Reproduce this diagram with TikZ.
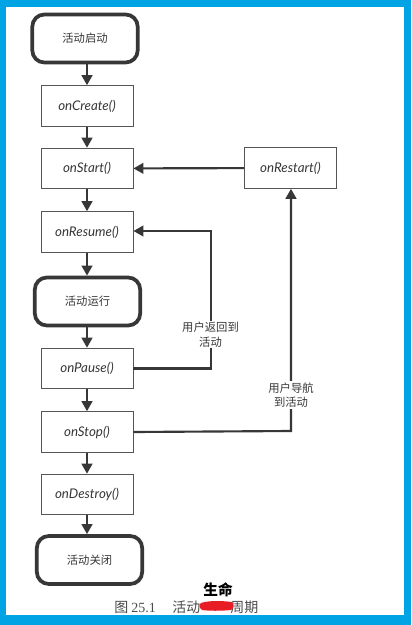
\documentclass[tikz,border=0pt]{standalone}
\usepackage{fontspec}
\setmainfont{Liberation Serif}
\newfontfamily\cjk{Noto Sans CJK SC}
\newfontfamily\hand{Lato}
\usetikzlibrary{arrows.meta}
\definecolor{frame}{RGB}{0,164,228}
\definecolor{ink}{RGB}{55,55,55}
\definecolor{blob}{RGB}{232,28,36}
\tikzset{
  methodbox/.style={draw=ink!85, line width=0.7pt, minimum width=69pt, minimum height=30.5pt, inner sep=0pt, font=\hand\itshape\fontsize{10}{11}\selectfont, text=ink},
  statebox/.style={draw=ink, line width=2.8pt, rounded corners=9pt, minimum width=79pt, minimum height=36pt, inner sep=0pt, font=\cjk\fontsize{8.5}{10}\selectfont, text=ink},
  flow/.style={draw=ink, line width=1.6pt, -{Triangle[length=7.5pt,width=8pt]}},
  lbl/.style={fill=white, inner sep=1pt, align=center, font=\cjk\fontsize{8.5}{11}\selectfont, text=ink}
}
\begin{document}
\begin{tikzpicture}[x=0.75pt,y=-0.75pt]
\useasboundingbox (0,0) rectangle (411,625);
\fill[frame] (0,0) rectangle (411,625);
\fill[white] (6,7) rectangle (404,615);

\node[statebox] (start) at (85,38.5) {活动启动};
\node[methodbox] (create) at (87,106) {onCreate()};
\node[methodbox] (onstart) at (87,168.5) {onStart()};
\node[methodbox] (restart) at (290.5,168) {onRestart()};
\node[methodbox] (resume) at (87,232) {onResume()};
\node[statebox] (run) at (87.5,301.5) {活动运行};
\node[methodbox] (pause) at (87,368.5) {onPause()};
\node[methodbox] (stop) at (87,432) {onStop()};
\node[methodbox] (destroy) at (87,494.5) {onDestroy()};
\node[statebox] (close) at (89.5,560) {活动关闭};

\draw[flow] (start.south -| create) -- (create.north);
\draw[flow] (create) -- (onstart);
\draw[flow] (onstart) -- (resume);
\draw[flow] (resume) -- (run.north -| resume);
\draw[flow] (run.south -| pause) -- (pause);
\draw[flow] (pause) -- (stop);
\draw[flow] (stop) -- (destroy);
\draw[flow] (destroy) -- (close.north -| destroy);
\draw[flow] (restart) -- (onstart);

\coordinate (b1) at (211,368.5);
\coordinate (b2) at (211,231);
\draw[flow] (pause.east) -- (b1) -- (b2) -- (b2 -| resume.east);
\coordinate (n1) at (291,431);
\draw[flow] (stop.east) -- (n1) -- (n1 |- restart.south);

\node[lbl] (lab1) at (210.5,334.5) {用户返回到\\活动};
\node[lbl] (lab2) at (291,395) {用户导航\\到活动};

\node[font=\cjk\bfseries\fontsize{11}{12}\selectfont, inner sep=0pt] (life) at (218,589.5) {生命};
\node[font=\cjk\fontsize{10.5}{12}\selectfont, text=ink!90, inner sep=0pt, anchor=west] (cap1) at (114,607) {图 \rmfamily 25.1};
\node[font=\cjk\fontsize{10.5}{12}\selectfont, text=ink!90, inner sep=0pt, anchor=west] (cap2) at (172,607) {活动};
\node[font=\cjk\fontsize{10.5}{12}\selectfont, text=ink!90, inner sep=0pt, anchor=west] (cap3) at (230,607) {周期};
\fill[blob] (201,603) .. controls (210,600) and (225,601) .. (232,602) .. controls (234,604) and (234,609) .. (231,610) .. controls (222,611) and (208,611) .. (202,610) .. controls (199,608) and (199,604) .. (201,603) -- cycle;
\end{tikzpicture}
\end{document}
